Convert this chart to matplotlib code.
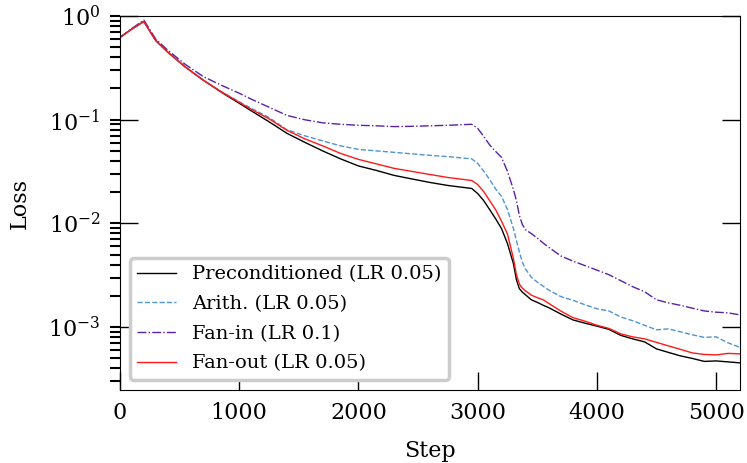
import numpy as np
import matplotlib
matplotlib.use("Agg")
import matplotlib.pyplot as plt
from matplotlib.ticker import LogLocator, NullFormatter

plt.rcParams["font.family"] = "DejaVu Serif"
plt.rcParams["mathtext.fontset"] = "dejavuserif"

steps = [0, 100, 200, 300, 400, 550, 700, 850, 1000, 1100, 1250, 1400, 1550, 1700,
         1850, 2000, 2150, 2300, 2450, 2600, 2750, 2950, 3000, 3050, 3100, 3150,
         3200, 3250, 3300, 3325, 3350, 3375, 3400, 3450, 3500, 3550, 3600, 3700,
         3800, 3900, 4000, 4100, 4200, 4300, 4400, 4500, 4600, 4700, 4800, 4900,
         5000, 5100, 5200]

precond = [0.622, 0.749, 0.885, 0.580, 0.449, 0.321, 0.240, 0.184, 0.144, 0.122,
           0.0955, 0.0739, 0.0605, 0.0500, 0.0419, 0.0358, 0.0324, 0.0290, 0.0268,
           0.0248, 0.0232, 0.0217, 0.0194, 0.0166, 0.0136, 0.0111, 0.00891,
           0.00638, 0.00408, 0.00286, 0.00234, 0.00217, 0.00205, 0.00183, 0.00173,
           0.00162, 0.00153, 0.00133, 0.00117, 0.00109, 0.00102, 0.000950,
           0.000831, 0.000769, 0.000719, 0.000615, 0.000569, 0.000527, 0.000498,
           0.000466, 0.000471, 0.000461, 0.000451]

arith = [0.622, 0.749, 0.885, 0.580, 0.449, 0.321, 0.240, 0.186, 0.149, 0.129,
         0.105, 0.0799, 0.0699, 0.0625, 0.0559, 0.0517, 0.0500, 0.0484, 0.0468,
         0.0453, 0.0440, 0.0419, 0.0379, 0.0320, 0.0265, 0.0215, 0.0182, 0.0136,
         0.00891, 0.00682, 0.00528, 0.00422, 0.00365, 0.00302, 0.00271, 0.00247,
         0.00226, 0.00196, 0.00181, 0.00164, 0.00150, 0.00143, 0.00125, 0.00115,
         0.00104, 0.000939, 0.000961, 0.000899, 0.000841, 0.000795, 0.000804,
         0.000704, 0.000636]

fan_in = [0.622, 0.757, 0.915, 0.599, 0.469, 0.340, 0.260, 0.215, 0.180, 0.158,
          0.132, 0.110, 0.0998, 0.0933, 0.0903, 0.0883, 0.0873, 0.0858, 0.0863,
          0.0873, 0.0883, 0.0903, 0.0826, 0.0691, 0.0572, 0.0495, 0.0433, 0.0317,
          0.0212, 0.0166, 0.0119, 0.00974, 0.00871, 0.00797, 0.00721, 0.00645,
          0.00583, 0.00483, 0.00432, 0.00391, 0.00354, 0.00320, 0.00280, 0.00245,
          0.00219, 0.00183, 0.00171, 0.00162, 0.00152, 0.00143, 0.00139, 0.00137,
          0.00131]

fan_out = [0.622, 0.749, 0.885, 0.580, 0.449, 0.321, 0.240, 0.186, 0.147, 0.126,
           0.102, 0.0790, 0.0654, 0.0559, 0.0473, 0.0414, 0.0375, 0.0339, 0.0317,
           0.0296, 0.0277, 0.0259, 0.0237, 0.0203, 0.0166, 0.0136, 0.0105,
           0.00788, 0.00457, 0.00320, 0.00259, 0.00237, 0.00224, 0.00203, 0.00192,
           0.00183, 0.00168, 0.00142, 0.00123, 0.00114, 0.00104, 0.000971,
           0.000859, 0.000804, 0.000769, 0.000711, 0.000658, 0.000609, 0.000563,
           0.000544, 0.000538, 0.000557, 0.000551]

fig = plt.figure(figsize=(7.47, 4.63), dpi=100)
ax = fig.add_axes([0.1606, 0.1577, 0.8300, 0.8077])

ax.plot(steps, precond, color="black", lw=1.0, label="Preconditioned (LR 0.05)")
ax.plot(steps, arith, color="#4f94d4", lw=1.0, ls="--", label="Arith. (LR 0.05)")
ax.plot(steps, fan_in, color="#5b21a6", lw=1.0, ls="-.", label="Fan-in (LR 0.1)")
ax.plot(steps, fan_out, color="#ff1a1a", lw=1.0, label="Fan-out (LR 0.05)")

ax.set_yscale("log")
ax.set_xlim(0, 5200)
ax.set_ylim(2.47e-4, 1.0)
ax.set_xticks([0, 1000, 2000, 3000, 4000, 5000])

# minor ticks also at the decades so the outer part of the major ticks shows
ax.yaxis.set_minor_locator(LogLocator(base=10, subs=np.arange(1, 10), numticks=20))
ax.yaxis.set_minor_formatter(NullFormatter())
ax.yaxis.remove_overlapping_locs = False

ax.tick_params(axis="x", which="major", direction="in", length=13, width=1,
               labelsize=16, pad=9, top=False)
ax.tick_params(axis="y", which="major", direction="in", length=13, width=1,
               labelsize=16, pad=14, right=True)
ax.tick_params(axis="y", which="minor", direction="out", length=7, width=1.5,
               right=False)
ax.tick_params(axis="x", which="minor", bottom=False, top=False)

ax.set_xlabel("Step", fontsize=16, labelpad=11)
ax.set_ylabel("Loss", fontsize=16, labelpad=13)

leg = ax.legend(loc="lower left", fontsize=14, labelspacing=0.6,
                handlelength=2.0, fancybox=True, framealpha=1.0)
leg.get_frame().set_edgecolor("#cccccc")
leg.get_frame().set_linewidth(2.5)

fig.savefig("out.png", dpi=100)
